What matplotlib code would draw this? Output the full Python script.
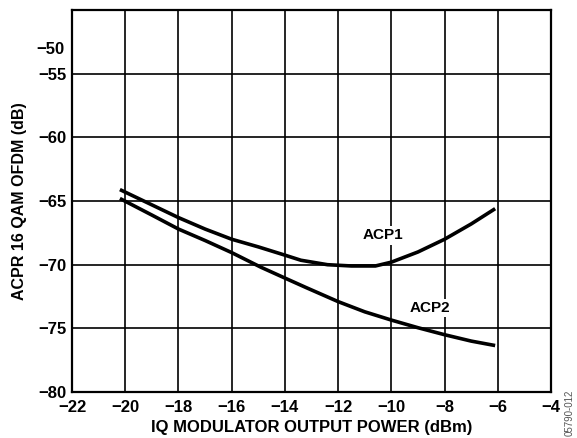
import numpy as np
import matplotlib
matplotlib.use('Agg')
from matplotlib import pyplot as plt

plt.rcParams['font.family'] = ['Liberation Sans', 'DejaVu Sans']
plt.rcParams['axes.unicode_minus'] = True

# ACPR vs IQ modulator output power
acp1_x = [-20.2, -19.0, -18.0, -17.0, -16.0, -15.0, -14.0, -13.4, -12.4, -11.5, -10.6, -10.0, -9.0, -8.0, -7.0, -6.1]
acp1_y = [-64.1, -65.3, -66.3, -67.2, -68.0, -68.6, -69.25, -69.65, -70.0, -70.1, -70.1, -69.8, -69.0, -68.0, -66.8, -65.6]
acp2_x = [-20.2, -19.0, -18.0, -17.0, -16.0, -14.9, -14.0, -13.2, -12.0, -11.0, -10.0, -9.0, -8.0, -7.0, -6.1]
acp2_y = [-64.8, -66.1, -67.2, -68.1, -69.05, -70.2, -71.05, -71.8, -72.9, -73.7, -74.35, -74.95, -75.5, -76.0, -76.35]

xticks = [-22, -20, -18, -16, -14, -12, -10, -8, -6, -4]
yticks = [-55, -60, -65, -70, -75, -80]

fig = plt.figure(figsize=(5.77, 4.38), dpi=100)
ax = fig.add_axes([0.1248, 0.105, 0.8302, 0.872])

ax.plot(acp1_x, acp1_y, color='black', lw=2.6, solid_capstyle='butt')
ax.plot(acp2_x, acp2_y, color='black', lw=2.6, solid_capstyle='butt')

ax.set_xlim(-22, -4)
ax.set_ylim(-80, -50)
ax.set_xticks(xticks)
ax.set_yticks(yticks)
ax.grid(True, color='black', lw=1.2)
ax.set_axisbelow(True)
for sp in ax.spines.values():
    sp.set_linewidth(1.6)
ax.tick_params(axis='x', length=0, pad=6, labelsize=12)
ax.tick_params(axis='y', length=0, pad=4, labelsize=12)
for lab in ax.get_xticklabels() + ax.get_yticklabels():
    lab.set_fontweight('bold')

# top label sits below the frame edge
ax.text(-22.3, -53.1, '\u221250', ha='right', va='center', fontsize=12, fontweight='bold')

ax.text(-10.3, -67.7, 'ACP1', ha='center', va='center', fontsize=11, fontweight='bold',
        bbox=dict(facecolor='white', edgecolor='none', pad=1.5))
ax.text(-8.55, -73.4, 'ACP2', ha='center', va='center', fontsize=11, fontweight='bold',
        bbox=dict(facecolor='white', edgecolor='none', pad=1.5))

ax.set_xlabel('IQ MODULATOR OUTPUT POWER (dBm)', fontsize=12, fontweight='bold', labelpad=3)
ax.set_ylabel('ACPR 16 QAM OFDM (dB)', fontsize=11.5, fontweight='bold', labelpad=8)

fig.text(0.988, 0.004, '05790-012', rotation=90, ha='center', va='bottom', fontsize=7, color='#555555')

fig.savefig('out.png', dpi=100)
